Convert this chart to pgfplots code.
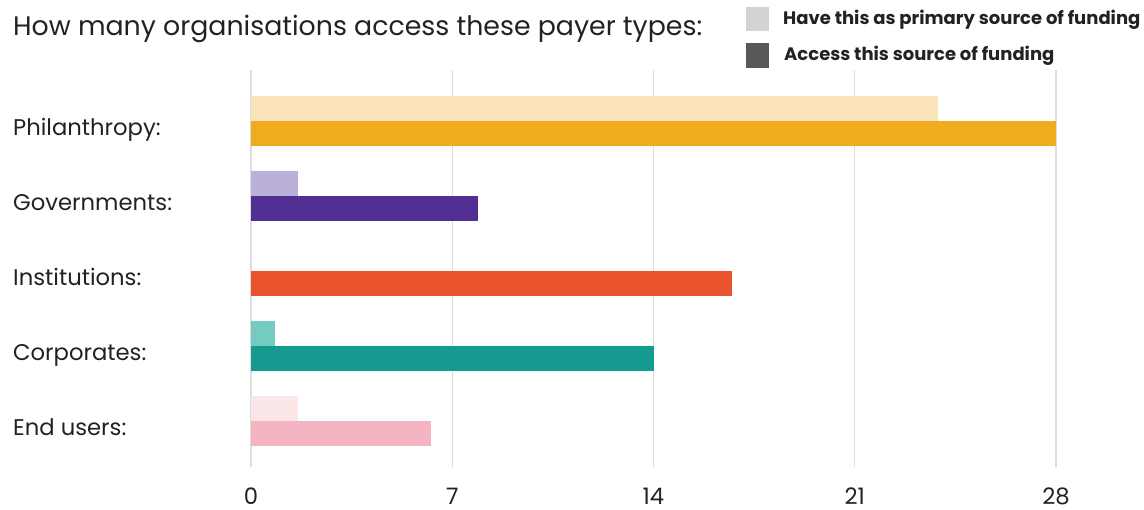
\documentclass[border=0pt]{standalone}
\usepackage{pgfplots}
\pgfplotsset{compat=1.18}
\usepackage{fontspec}
\setmainfont{Poppins}
\definecolor{phL}{HTML}{FAE2BA}
\definecolor{phD}{HTML}{F0AC1F}
\definecolor{goL}{HTML}{BAB0D7}
\definecolor{goD}{HTML}{512E91}
\definecolor{inD}{HTML}{E8532E}
\definecolor{coL}{HTML}{76CBC0}
\definecolor{coD}{HTML}{149A8F}
\definecolor{euL}{HTML}{FBE6E8}
\definecolor{euD}{HTML}{F5B4C1}
\definecolor{gridc}{HTML}{DCDCDC}
\definecolor{txt}{HTML}{222222}
\definecolor{legL}{HTML}{D3D3D3}
\definecolor{legD}{HTML}{58585A}
\begin{document}
\begin{tikzpicture}[x=1pt,y=1pt]
\path[use as bounding box] (0,0) rectangle (1144,510);
\begin{axis}[
  at={(251pt,43pt)}, anchor=south west,
  width=805pt, height=397pt, scale only axis,
  xmin=0, xmax=28, ymin=-0.61, ymax=4.68,
  axis line style={draw=none},
  major tick length=0pt,
  xtick={0,7,14,21,28},
  xmajorgrids, grid style={gridc, line width=1.4pt},
  ytick={0,1,2,3,4},
  yticklabels={End users:,Corporates:,Institutions:,Governments:,Philanthropy:},
  yticklabel style={anchor=base west, inner sep=0pt, xshift=-238pt, yshift=-14pt, font=\fontsize{22.7}{26}\selectfont, text=txt},
  xticklabel style={anchor=base, inner sep=0pt, yshift=-38pt, font=\fontsize{22.7}{26}\selectfont, text=txt},
  /pgf/number format/assume math mode=true,
  xbar, bar width=0.3333, draw=none,
  clip=false,
]
% light bars: primary source of funding
\addplot[fill=phL, draw=none, bar shift=0.16667] coordinates {(23.88,4)};
\addplot[fill=goL, draw=none, bar shift=0.16667] coordinates {(1.63,3)};
\addplot[fill=coL, draw=none, bar shift=0.16667] coordinates {(0.83,1)};
\addplot[fill=euL, draw=none, bar shift=0.16667] coordinates {(1.63,0)};
% dark bars: access this source
\addplot[fill=phD, draw=none, bar shift=-0.16667] coordinates {(28,4)};
\addplot[fill=goD, draw=none, bar shift=-0.16667] coordinates {(7.9,3)};
\addplot[fill=inD, draw=none, bar shift=-0.16667] coordinates {(16.72,2)};
\addplot[fill=coD, draw=none, bar shift=-0.16667] coordinates {(14.03,1)};
\addplot[fill=euD, draw=none, bar shift=-0.16667] coordinates {(6.26,0)};
\end{axis}
\node[anchor=base west, inner sep=0pt, text=txt, font=\fontsize{26.8}{30}\selectfont] at (13,474) {How many organisations access these payer types:};
\fill[legL] (746,479) rectangle (769,503);
\fill[legD] (746,442) rectangle (769,467);
\node[anchor=base west, inner sep=0pt, text=txt, font=\bfseries\fontsize{18}{21}\selectfont] at (783,485) {Have this as primary source of funding};
\node[anchor=base west, inner sep=0pt, text=txt, font=\bfseries\fontsize{18}{21}\selectfont] at (784,449) {Access this source of funding};
\end{tikzpicture}
\end{document}
